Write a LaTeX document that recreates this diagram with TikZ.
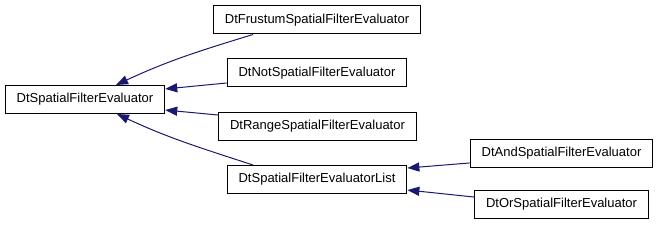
\documentclass[tikz,border=0pt]{standalone}
\usepackage{fontspec}
\setmainfont{Liberation Sans}
\usepackage{tikz}
\usepackage{xcolor}
\usetikzlibrary{arrows.meta}
\definecolor{edgeblue}{RGB}{25,25,112}

\begin{document}
\begin{tikzpicture}[x=0.75pt,y=0.75pt,
  cls/.style={draw=black,line width=0.75pt,fill=white,minimum height=21pt,inner xsep=8.6pt,inner ysep=0pt,font=\fontsize{9.75}{12}\selectfont},
  inh/.style={draw=edgeblue,line width=0.75pt,-{Triangle[length=9pt,width=6.8pt]}}]
\useasboundingbox (0,0) rectangle (659,227);
\node[cls] (base) at (85,127.5) {DtSpatialFilterEvaluator};
\node[cls] (frustum) at (317,207) {DtFrustumSpatialFilterEvaluator};
\node[cls] (notf) at (317,154) {DtNotSpatialFilterEvaluator};
\node[cls] (range) at (317.5,100.5) {DtRangeSpatialFilterEvaluator};
\node[cls] (list) at (317,47.5) {DtSpatialFilterEvaluatorList};
\node[cls] (andf) at (561.5,73.5) {DtAndSpatialFilterEvaluator};
\node[cls] (orf) at (561.5,22.5) {DtOrSpatialFilterEvaluator};
\draw[inh] ([xshift=-48pt]frustum.south) to[out=197,in=25] ([xshift=23.25pt]base.north);
\draw[inh] ([yshift=-7.5pt]notf.west) -- ([yshift=7.9pt]base.east);
\draw[inh] ([yshift=8.6pt]range.west) -- ([yshift=-7.9pt]base.east);
\draw[inh] ([xshift=-48pt]list.north) to[out=162,in=-25] ([xshift=24pt]base.south);
\draw[inh] ([yshift=-7.1pt]andf.west) -- ([yshift=8.6pt]list.east);
\draw[inh] ([yshift=5.6pt]orf.west) -- ([yshift=-7.9pt]list.east);
\end{tikzpicture}
\end{document}
